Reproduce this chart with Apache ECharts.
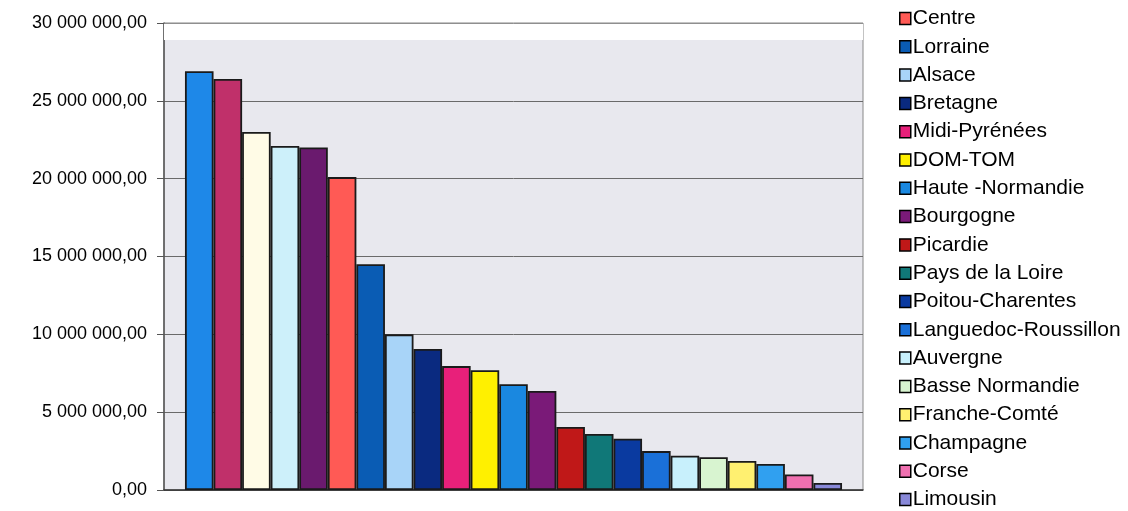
<!DOCTYPE html>
<html><head><meta charset="utf-8">
<script src="https://cdn.jsdelivr.net/npm/echarts@6/dist/echarts.min.js"></script>
<style>html,body{margin:0;padding:0;background:#fff}#c{width:1128px;height:511px}</style>
</head><body><div id="c"></div>
<script>
// Regions (first five are not visible in the cropped legend)
const regions = ['Région 1','Région 2','Région 3','Région 4','Région 5',
  'Centre','Lorraine','Alsace','Bretagne','Midi-Pyrénées','DOM-TOM','Haute -Normandie',
  'Bourgogne','Picardie','Pays de la Loire','Poitou-Charentes','Languedoc-Roussillon',
  'Auvergne','Basse Normandie','Franche-Comté','Champagne','Corse','Limousin'];
const legendNames = regions.slice(5);
const values = [26900000,26400000,23000000,22100000,22000000,
  20100000,14500000,10000000,9060000,7960000,7700000,6800000,
  6360000,4050000,3600000,3300000,2500000,2200000,2100000,1860000,1670000,1000000,450000];
const colors = ['#1e88e8','#c0306a','#fffbe6','#cdf0fa','#6a1a6e',
  '#ff5a55','#0a5cb4','#a8d4f8','#0a2a80','#e8207a','#fff000','#1a88e0',
  '#7a1a78','#c01818','#107878','#0a3aa0','#1a70d8','#c8f0fc','#d8f4d0','#fff070','#30a0f0','#f070b0','#8888d8'];
const yTicks = {min:0, max:30000000, interval:5000000};

function fmt(v){
  const s = Math.round(v).toString().replace(/\B(?=(\d{3})+(?!\d))/g,' ');
  return s + ',00';
}

const series = regions.map((name,i)=>({
  name, type:'bar', data:[values[i]],
  barGap:'0%', barCategoryGap:'6%',
  itemStyle:{color:colors[i], borderColor:'#1a1a1a', borderWidth:1.8},
  emphasis:{disabled:true}
}));
series[0].markArea = {silent:true, itemStyle:{color:'#ffffff'},
  data:[[{yAxis:28900000},{yAxis:29950000}]]};

const chart = echarts.init(document.getElementById('c'));
chart.setOption({
  animation:false,
  textStyle:{fontFamily:'Liberation Sans, Arial, sans-serif'},
  grid:{left:164, right:265, top:23, bottom:21, show:true,
    backgroundColor:'#e8e8ee', borderColor:'#888', borderWidth:1},
  legend:{orient:'vertical', left:894, top:3, height:540, data:legendNames,
    icon:'rect', itemWidth:11, itemHeight:12, itemGap:7.3,
    itemStyle:{borderColor:'#000', borderWidth:1.5},
    textStyle:{fontSize:21, lineHeight:20, color:'#000', fontFamily:'Liberation Sans, Arial, sans-serif', padding:[0,0,0,-3]}},
  xAxis:{type:'category', data:[''],
    axisLine:{show:true, lineStyle:{color:'#333', width:1.5}},
    axisTick:{show:false}, axisLabel:{show:false}},
  yAxis:{type:'value', min:yTicks.min, max:yTicks.max, interval:yTicks.interval,
    axisLine:{show:true, lineStyle:{color:'#555', width:1.5}},
    axisTick:{show:true, length:7, lineStyle:{color:'#555'}},
    axisLabel:{formatter:fmt, fontSize:18, color:'#000', margin:17,
      fontFamily:'Liberation Sans, Arial, sans-serif'},
    splitLine:{show:true, lineStyle:{color:'#6a6a6a', width:1}}},
  series
});
</script></body></html>
